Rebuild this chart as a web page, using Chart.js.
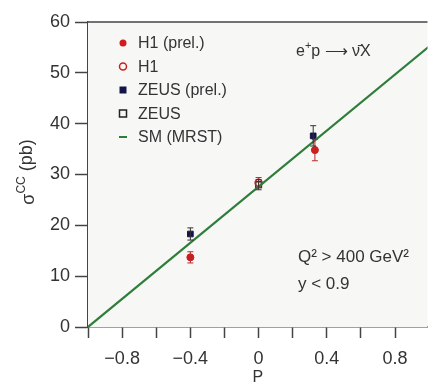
<!DOCTYPE html>
<html>
<head>
<meta charset="utf-8">
<script src="https://cdn.jsdelivr.net/npm/chart.js@4/dist/chart.umd.min.js"></script>
<style>
  html, body { margin: 0; padding: 0; background: #fff; }
  #wrap { width: 433px; height: 387px; }
</style>
</head>
<body>
<div id="wrap"><canvas id="cc"></canvas></div>
<script>
'use strict';

// polarisation values and cross sections
const h1PrelP = [-0.40, 0.33];
const h1PrelSigma = [13.7, 34.8];
const h1PrelErr = [1.1, 2.1];

const h1P = [0.0];
const h1Sigma = [28.4];
const h1Err = [1.0];

const zeusPrelP = [-0.40, 0.32];
const zeusPrelSigma = [18.3, 37.6];
const zeusPrelErr = [1.2, 2.0];

const zeusP = [0.0];
const zeusSigma = [28.0];
const zeusErr = [1.0];

// standard model line (MRST)
const smP = [-1.0, 1.0];
const smSigma = [0, 55.2];

const xTicks = [-1.0, -0.8, -0.6, -0.4, -0.2, 0, 0.2, 0.4, 0.6, 0.8];
const xLabelled = [-0.8, -0.4, 0, 0.4, 0.8];
const yTicks = [0, 10, 20, 30, 40, 50, 60];

const FONT = "'Liberation Sans Narrow', 'Liberation Sans', Arial, sans-serif";
const TXT = '#333';

function pts(xs, ys) {
  return xs.map((x, i) => ({x: x, y: ys[i]}));
}

const errSets = [
  {xs: h1PrelP, ys: h1PrelSigma, es: h1PrelErr, color: '#b52a2a'},
  {xs: h1P, ys: h1Sigma, es: h1Err, color: '#b52a2a'},
  {xs: zeusPrelP, ys: zeusPrelSigma, es: zeusPrelErr, color: '#333'},
  {xs: zeusP, ys: zeusSigma, es: zeusErr, color: '#333'}
];

// legend rows drawn inside the plot
const legendItems = [
  {label: 'H1 (prel.)', kind: 'dot'},
  {label: 'H1', kind: 'ring'},
  {label: 'ZEUS (prel.)', kind: 'fsq'},
  {label: 'ZEUS', kind: 'osq'},
  {label: 'SM (MRST)', kind: 'line'}
];

const decor = {
  id: 'decor',
  beforeDatasetsDraw(chart) {
    const {ctx, chartArea: a} = chart;
    ctx.save();
    ctx.fillStyle = '#f7f7f6';
    ctx.fillRect(a.left, a.top, a.right - a.left, a.bottom - a.top);
    ctx.restore();
  },
  afterDatasetsDraw(chart) {
    const {ctx, chartArea: a, scales: {x, y}} = chart;
    ctx.save();
    // error bars
    ctx.lineWidth = 1;
    errSets.forEach(s => {
      ctx.strokeStyle = s.color;
      s.xs.forEach((p, i) => {
        const px = x.getPixelForValue(p);
        const top = y.getPixelForValue(s.ys[i] + s.es[i]);
        const bot = y.getPixelForValue(s.ys[i] - s.es[i]);
        ctx.beginPath();
        ctx.moveTo(px, top); ctx.lineTo(px, bot);
        ctx.moveTo(px - 3, top); ctx.lineTo(px + 3, top);
        ctx.moveTo(px - 3, bot); ctx.lineTo(px + 3, bot);
        ctx.stroke();
      });
    });

    // top frame line
    ctx.strokeStyle = '#444';
    ctx.lineWidth = 1.5;
    ctx.beginPath();
    ctx.moveTo(a.left, a.top);
    ctx.lineTo(a.right, a.top);
    ctx.stroke();

    // legend
    ctx.font = '16px ' + FONT;
    ctx.textBaseline = 'middle';
    ctx.fillStyle = TXT;
    legendItems.forEach((it, i) => {
      const ly = 43 + i * 23.5;
      const mx = 123;
      ctx.lineWidth = 1.5;
      if (it.kind === 'dot') {
        ctx.fillStyle = '#d01c1c';
        ctx.beginPath(); ctx.arc(mx, ly, 3.5, 0, Math.PI * 2); ctx.fill();
      } else if (it.kind === 'ring') {
        ctx.strokeStyle = '#d01c1c';
        ctx.beginPath(); ctx.arc(mx, ly, 3.5, 0, Math.PI * 2); ctx.stroke();
      } else if (it.kind === 'fsq') {
        ctx.fillStyle = '#14144a';
        ctx.fillRect(mx - 3.5, ly - 3.5, 7, 7);
      } else if (it.kind === 'osq') {
        ctx.strokeStyle = '#222';
        ctx.strokeRect(mx - 3.5, ly - 3.5, 7, 7);
      } else {
        ctx.strokeStyle = '#2e7d3a';
        ctx.lineWidth = 2;
        ctx.beginPath(); ctx.moveTo(mx - 4, ly); ctx.lineTo(mx + 4, ly); ctx.stroke();
      }
      ctx.fillStyle = TXT;
      ctx.fillText(it.label, 138, ly + 1);
    });

    // process label
    ctx.font = '16px ' + FONT;
    ctx.textBaseline = 'alphabetic';
    let tx = 296;
    ctx.fillText('e', tx, 56);
    tx += ctx.measureText('e').width;
    ctx.font = '11px ' + FONT;
    ctx.fillText('+', tx, 49);
    tx += ctx.measureText('+').width;
    ctx.font = '16px ' + FONT;
    ctx.fillText('p \u27F6 \u03BD\u0304X', tx, 56);

    // cuts
    ctx.font = '17px ' + FONT;
    ctx.fillText('Q\u00B2 > 400 GeV\u00B2', 298, 262);
    ctx.fillText('y < 0.9', 298, 289);

    // y title
    ctx.translate(27, 172);
    ctx.rotate(-Math.PI / 2);
    ctx.textBaseline = 'middle';
    ctx.textAlign = 'left';
    ctx.font = '18px ' + FONT;
    let w1 = ctx.measureText('\u03C3').width;
    ctx.font = '12px ' + FONT;
    let w2 = ctx.measureText('CC').width;
    ctx.font = '18px ' + FONT;
    let w3 = ctx.measureText(' (pb)').width;
    let sx = -(w1 + w2 + w3) / 2;
    ctx.fillText('\u03C3', sx, 2);
    ctx.font = '12px ' + FONT;
    ctx.fillText('CC', sx + w1, -5);
    ctx.font = '18px ' + FONT;
    ctx.fillText(' (pb)', sx + w1 + w2, 0);
    ctx.restore();
  }
};

const ctx = document.getElementById('cc').getContext('2d');

new Chart(ctx, {
  type: 'scatter',
  data: {
    datasets: [{
      label: 'SM (MRST)',
      type: 'line',
      data: pts(smP, smSigma),
      borderColor: '#2e7d3a',
      borderWidth: 2.2,
      pointRadius: 0,
      fill: false
    }, {
      label: 'H1 (prel.)',
      data: pts(h1PrelP, h1PrelSigma),
      pointStyle: 'circle',
      pointRadius: 3.5,
      backgroundColor: '#d01c1c',
      borderColor: '#d01c1c'
    }, {
      label: 'H1',
      data: pts(h1P, h1Sigma),
      pointStyle: 'circle',
      pointRadius: 3.5,
      borderWidth: 1.5,
      backgroundColor: 'rgba(0,0,0,0)',
      borderColor: '#c02020'
    }, {
      label: 'ZEUS (prel.)',
      data: pts(zeusPrelP, zeusPrelSigma),
      pointStyle: 'rect',
      pointRadius: 4,
      backgroundColor: '#14144a',
      borderColor: '#14144a'
    }, {
      label: 'ZEUS',
      data: pts(zeusP, zeusSigma),
      pointStyle: 'rect',
      pointRadius: 4,
      borderWidth: 1.5,
      backgroundColor: 'rgba(0,0,0,0)',
      borderColor: '#333'
    }]
  },
  options: {
    responsive: true,
    maintainAspectRatio: false,
    animation: false,
    layout: {padding: {top: 22, right: 0, left: 0, bottom: 0}},
    plugins: {
      legend: {display: false},
      tooltip: {enabled: false}
    },
    scales: {
      x: {
        type: 'linear',
        min: -1.0,
        max: 0.99,
        afterBuildTicks(scale) {
          scale.ticks = xTicks.map(v => ({value: v}));
        },
        afterFit(scale) { scale.height = 60; },
        grid: {
          drawOnChartArea: false,
          drawTicks: true,
          tickLength: 11,
          tickWidth: 1.5,
          tickColor: '#444'
        },
        border: {display: true, color: '#444', width: 1.5},
        ticks: {
          autoSkip: false,
          maxRotation: 0,
          padding: 10,
          color: TXT,
          font: {family: FONT, size: 18},
          callback(v) {
            const hit = xLabelled.find(t => Math.abs(t - v) < 1e-6);
            if (hit === undefined) return '';
            return hit === 0 ? '0' : hit.toFixed(1).replace('-', '\u2212');
          }
        },
        title: {
          display: true,
          text: 'P',
          color: TXT,
          font: {family: FONT, size: 16},
          padding: {top: 0, bottom: 0}
        }
      },
      y: {
        min: 0,
        max: 60,
        afterBuildTicks(scale) {
          scale.ticks = yTicks.map(v => ({value: v}));
        },
        afterFit(scale) { scale.width = 88; },
        grid: {
          drawOnChartArea: false,
          drawTicks: true,
          tickLength: 13,
          tickWidth: 1.5,
          tickColor: '#444'
        },
        border: {display: true, color: '#444', width: 1.5},
        ticks: {
          padding: 5,
          color: TXT,
          font: {family: FONT, size: 18}
        }
      }
    }
  },
  plugins: [decor]
});
</script>
</body>
</html>
